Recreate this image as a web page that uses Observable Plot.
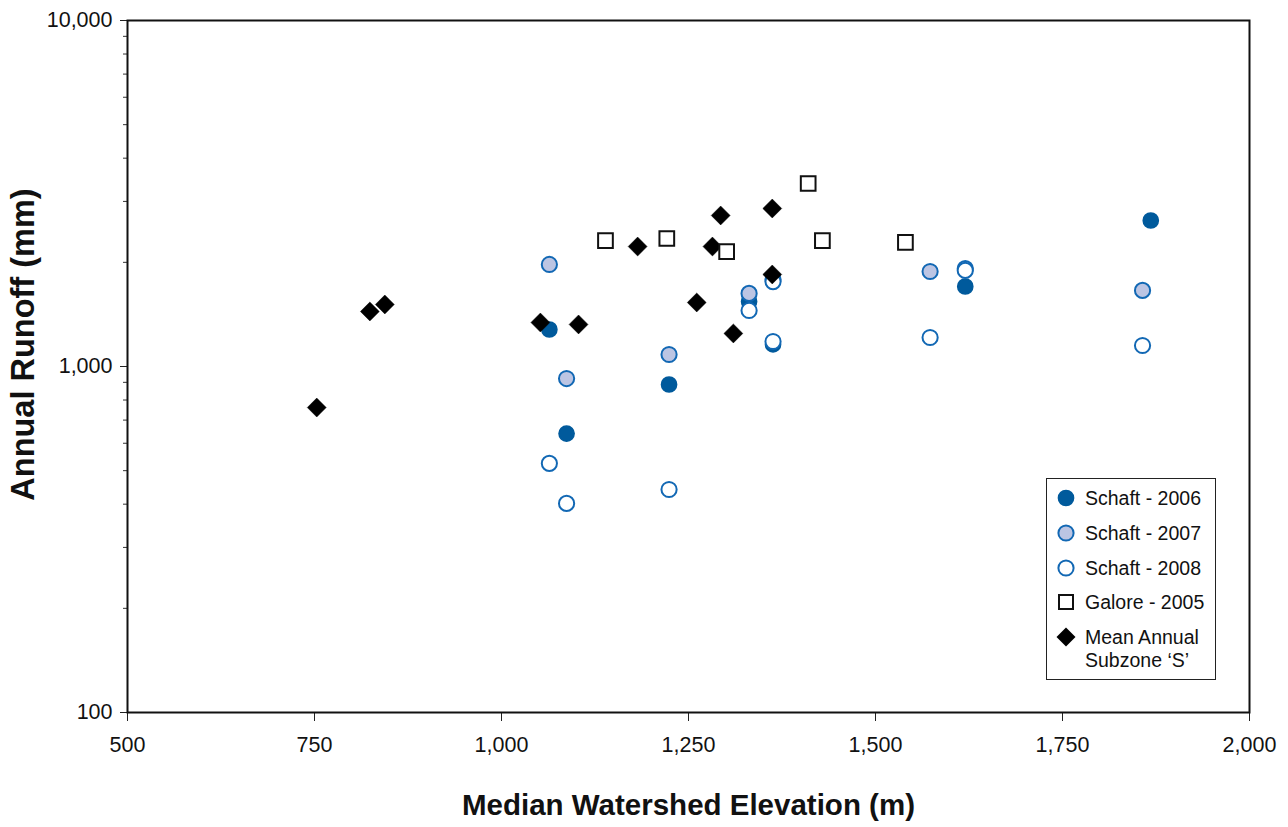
<!DOCTYPE html>
<html>
<head>
<meta charset="utf-8">
<script src="https://cdn.jsdelivr.net/npm/d3@7"></script>
<script src="https://cdn.jsdelivr.net/npm/@observablehq/plot@0.6"></script>
<style>
  html, body { margin: 0; padding: 0; background: #fff; }
  #wrap { position: relative; width: 1288px; height: 827px; }
  #legend {
    position: absolute; left: 1046px; top: 478px; width: 170px; height: 202px;
    border: 1.5px solid #222; background: #fff; box-sizing: border-box;
    font-family: "Liberation Sans", Arial, sans-serif;
    font-size: 19.5px; color: #111;
  }
  .item { position: absolute; left: 8px; display: flex; align-items: flex-start; white-space: nowrap; }
  .item svg { flex: none; margin-right: 8px; }
  .item span { line-height: 23px; padding-top: 1px; }
</style>
</head>
<body>
<div id="wrap"></div>
<script>
// ---- data ----
const xTicks = [500, 750, 1000, 1250, 1500, 1750, 2000];
const yMajorTicks = [100, 1000, 10000];
const yMinorTicks = [200, 300, 400, 500, 600, 700, 800, 900, 2000, 3000, 4000, 5000, 6000, 7000, 8000, 9000];

const seriesNames = ["Schaft - 2006", "Schaft - 2007", "Schaft - 2008", "Galore - 2005", "Mean Annual\nSubzone \u2018S\u2019"];

const schaft2006Elev = [1064, 1087, 1224, 1331, 1363, 1620, 1868];
const schaft2006Runoff = [1279, 640, 887, 1541, 1158, 1703, 2642];

const schaft2007Elev = [1064, 1087, 1224, 1331, 1363, 1573, 1620, 1857];
const schaft2007Runoff = [1972, 923, 1083, 1626, 1784, 1882, 1919, 1659];

const schaft2008Elev = [1064, 1087, 1224, 1331, 1363, 1363, 1573, 1620, 1857];
const schaft2008Runoff = [525, 402, 441, 1452, 1181, 1760, 1213, 1895, 1150];

const galore2005Elev = [1139, 1221, 1301, 1410, 1429, 1540];
const galore2005Runoff = [2312, 2344, 2149, 3380, 2312, 2283];

const meanSubzoneElev = [753, 824, 844, 1052, 1103, 1182, 1261, 1282, 1293, 1310, 1362, 1362];
const meanSubzoneRunoff = [761, 1442, 1511, 1340, 1323, 2222, 1531, 2222, 2732, 1246, 2862, 1845];

// ---- styles ----
const darkBlue = "#005a9c";
const ringBlue = "#1268b4";
const lightFill = "#bcc5e3";
const baseFont = "'Liberation Sans', Arial, sans-serif";

const pts = (xs, ys) => xs.map((x, i) => ({x, y: ys[i]}));

const chart = Plot.plot({
  width: 1288,
  height: 827,
  marginLeft: 127,
  marginRight: 39,
  marginTop: 20,
  marginBottom: 115,
  style: {background: "#fff", fontFamily: baseFont, color: "#111"},
  x: {domain: [500, 2000]},
  y: {type: "log", domain: [100, 10000]},
  marks: [
    Plot.axisY({ticks: yMinorTicks, tickSize: 4, tickFormat: () => "", label: null, stroke: "#333"}),
    Plot.axisY({ticks: yMajorTicks, tickSize: 7, tickPadding: 8, tickFormat: d3.format(","), fontSize: 21.5, label: null, stroke: "#222"}),
    Plot.axisX({ticks: xTicks, tickSize: 9, tickPadding: 15, tickFormat: d3.format(","), fontSize: 21.5, label: null, stroke: "#222"}),
    Plot.frame({stroke: "#111", strokeWidth: 2}),
    Plot.dot(pts(schaft2006Elev, schaft2006Runoff), {x: "x", y: "y", r: 7.6, fill: darkBlue, stroke: darkBlue, strokeWidth: 1.5}),
    Plot.dot(pts(schaft2007Elev, schaft2007Runoff), {x: "x", y: "y", r: 7.6, fill: lightFill, stroke: ringBlue, strokeWidth: 2}),
    Plot.dot(pts(schaft2008Elev, schaft2008Runoff), {x: "x", y: "y", r: 7.6, fill: "#fff", stroke: ringBlue, strokeWidth: 2}),
    Plot.dot(pts(meanSubzoneElev, meanSubzoneRunoff), {x: "x", y: "y", symbol: "diamond2", r: 8.5, fill: "#000", stroke: "#000", strokeWidth: 0.5}),
    Plot.dot(pts(galore2005Elev, galore2005Runoff), {x: "x", y: "y", symbol: "square", r: 8.3, fill: "#fff", stroke: "#111", strokeWidth: 2}),
    Plot.text(["Median Watershed Elevation (m)"], {frameAnchor: "bottom", dy: 93, text: d => d, fontSize: 29.5, fontWeight: "bold", fontFamily: baseFont, lineAnchor: "middle", textAnchor: "middle", fill: "#111"}),
    Plot.text(["Annual Runoff (mm)"], {frameAnchor: "left", dx: -104, dy: -22, rotate: -90, text: d => d, fontSize: 32.5, fontWeight: "bold", fontFamily: baseFont, lineAnchor: "middle", textAnchor: "middle", fill: "#111"})
  ]
});

const wrap = document.getElementById("wrap");
wrap.appendChild(chart);

// ---- legend ----
const legend = document.createElement("div");
legend.id = "legend";
const symbols = [
  `<circle cx="11" cy="12" r="7.6" fill="${darkBlue}" stroke="${darkBlue}" stroke-width="1.5"/>`,
  `<circle cx="11" cy="12" r="7.6" fill="${lightFill}" stroke="${ringBlue}" stroke-width="2"/>`,
  `<circle cx="11" cy="12" r="7.6" fill="#fff" stroke="${ringBlue}" stroke-width="2"/>`,
  `<rect x="4" y="5" width="14" height="14" fill="#fff" stroke="#111" stroke-width="2"/>`,
  `<path d="M11 2.5 L20.5 12 L11 21.5 L1.5 12 Z" fill="#000"/>`
];
const tops = [7, 42, 77, 111, 146];
seriesNames.forEach((name, i) => {
  const it = document.createElement("div");
  it.className = "item";
  it.style.top = tops[i] + "px";
  it.innerHTML = `<svg width="22" height="24">${symbols[i]}</svg><span>${name.replace("\n", "<br>")}</span>`;
  legend.appendChild(it);
});
wrap.appendChild(legend);
</script>
</body>
</html>
